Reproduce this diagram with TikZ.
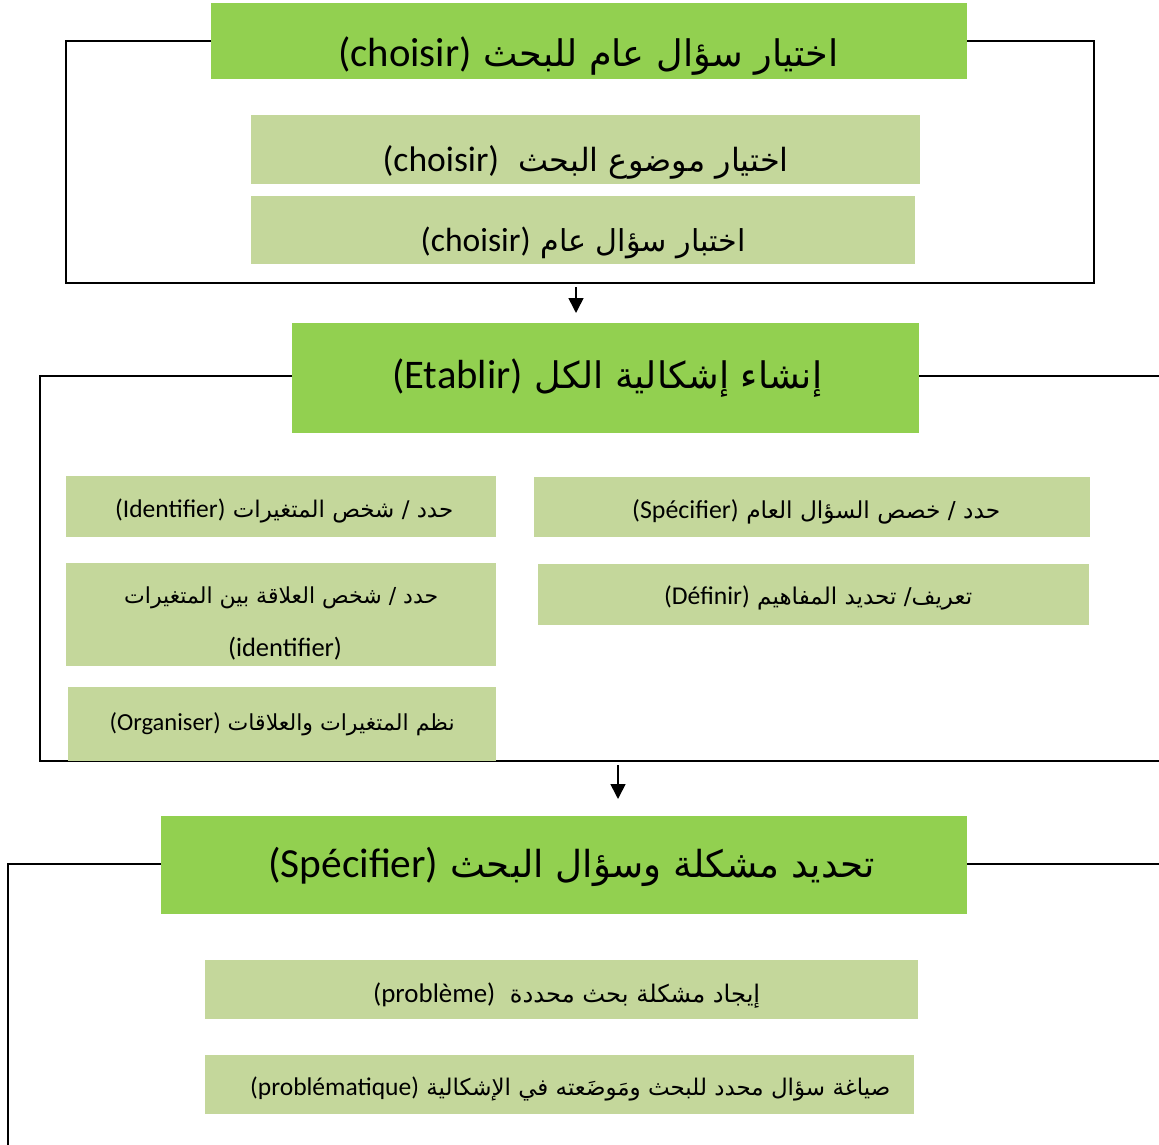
\documentclass[tikz,border=0pt]{standalone}
\usepackage{fontspec}
\setmainfont{Carlito}
\newfontfamily\latinfont{Carlito}
\newfontfamily\arabicfont[Script=Arabic,Scale=0.9]{DejaVu Sans}
\TeXXeTstate=1
\usetikzlibrary{arrows.meta}
\definecolor{titlegreen}{HTML}{92D050}
\definecolor{subgreen}{HTML}{C4D79B}
% #1 horizontal shift, #2 target width, #3 content
\newcommand{\fitto}[3]{\hspace*{#1}\resizebox{#2}{!}{#3}\hspace*{-#1}}
\tikzset{
  titlebox/.style={fill=titlegreen, draw=none, inner sep=0pt, anchor=north west, font=\fontsize{30}{36}\selectfont},
  subbox/.style={fill=subgreen, draw=none, inner sep=0pt, anchor=north west, font=\fontsize{20}{24}\selectfont},
  plaintext/.style={inner sep=0pt, font=\fontsize{20}{24}\selectfont},
  frameline/.style={draw=black, line width=1.3pt},
  flowarrow/.style={-{Triangle[length=15pt,width=15pt]}, line width=1.6pt}
}
\begin{document}
\begin{tikzpicture}[x=1pt,y=-1pt]
\useasboundingbox (0,0) rectangle (1159,1145);
% frames
\coordinate (f1a) at (66,41);
\coordinate (f1b) at (1094,283);
\draw[frameline] (f1a) rectangle (f1b);
\coordinate (f2a) at (1160,376);
\coordinate (f2b) at (40,376);
\coordinate (f2c) at (40,761);
\coordinate (f2d) at (1160,761);
\draw[frameline] (f2a) -- (f2b) -- (f2c) -- (f2d);
\coordinate (f3a) at (1160,864);
\coordinate (f3b) at (8,864);
\coordinate (f3c) at (8,1146);
\draw[frameline] (f3a) -- (f3b) -- (f3c);
% section 1
\node[titlebox, minimum width=756pt, minimum height=76pt, text height=55pt, text depth=5pt] (t1) at (211,3)
  {\fitto{-1pt}{500pt}{\arabicfont\beginR اختيار سؤال عام للبحث \beginL{\latinfont(choisir)}\endL\endR}};
\node[subbox, minimum width=669pt, minimum height=69pt, text height=52pt, text depth=8pt] (s1) at (251,115)
  {\fitto{0pt}{406pt}{\arabicfont\beginR اختيار موضوع البحث\hspace{0.6em}\beginL{\latinfont(choisir)}\endL\endR}};
\node[subbox, minimum width=664pt, minimum height=68pt, text height=51pt, text depth=9pt] (s2) at (251,196)
  {\fitto{0pt}{325pt}{\arabicfont\beginR اختبار سؤال عام \beginL{\latinfont(choisir)}\endL\endR}};
% arrow 1
\coordinate (a1s) at (576,287);
\coordinate (a1e) at (576,313);
\draw[flowarrow] (a1s) -- (a1e);
% section 2
\node[titlebox, minimum width=627pt, minimum height=110pt, text height=40pt, text depth=20pt] (t2) at (292,323)
  {\fitto{1.5pt}{430pt}{\arabicfont\beginR إنشاء إشكالية الكل \beginL{\latinfont(Etablir)}\endL\endR}};
\node[subbox, minimum width=430pt, minimum height=61pt, text height=41pt, text depth=19pt] (l1) at (66,476)
  {\fitto{3pt}{338pt}{\arabicfont\beginR حدد / شخص المتغيرات \beginL{\latinfont(Identifier)}\endL\endR}};
\node[subbox, minimum width=430pt, minimum height=103pt, text height=20pt, text depth=42pt] (l2) at (66,563)
  {\fitto{0pt}{314pt}{\arabicfont\beginR حدد / شخص العلاقة بين المتغيرات\endR}};
\node[plaintext, anchor=base] (l2b) at (285,656)
  {\resizebox{114pt}{!}{\latinfont(identifier)}};
\node[subbox, minimum width=428pt, minimum height=74pt, text height=36pt, text depth=24pt] (l3) at (68,687)
  {\fitto{0pt}{345pt}{\arabicfont\beginR نظم المتغيرات والعلاقات \beginL{\latinfont(Organiser)}\endL\endR}};
\node[subbox, minimum width=556pt, minimum height=60pt, text height=41pt, text depth=19pt] (r1) at (534,477)
  {\fitto{4pt}{368pt}{\arabicfont\beginR حدد / خصص السؤال العام \beginL{\latinfont(Spécifier)}\endL\endR}};
\node[subbox, minimum width=551pt, minimum height=61pt, text height=40pt, text depth=20pt] (r2) at (538,564)
  {\fitto{4.5pt}{308pt}{\arabicfont\beginR تعريف/ تحديد المفاهيم \beginL{\latinfont(Définir)}\endL\endR}};
% arrow 2
\coordinate (a2s) at (618,765);
\coordinate (a2e) at (618,799);
\draw[flowarrow] (a2s) -- (a2e);
% section 3
\node[titlebox, minimum width=806pt, minimum height=98pt, text height=42pt, text depth=18pt] (t3) at (161,816)
  {\fitto{7.5pt}{607pt}{\arabicfont\beginR تحديد مشكلة وسؤال البحث \beginL{\latinfont(Spécifier)}\endL\endR}};
\node[subbox, minimum width=713pt, minimum height=59pt, text height=42pt, text depth=16pt] (b1) at (205,960)
  {\fitto{5pt}{387pt}{\arabicfont\beginR إيجاد مشكلة بحث محددة\hspace{0.6em}\beginL{\latinfont(problème)}\endL\endR}};
\node[subbox, minimum width=709pt, minimum height=59pt, text height=40pt, text depth=18pt] (b2) at (205,1055)
  {\fitto{10.5pt}{640pt}{\arabicfont\beginR صياغة سؤال محدد للبحث ومَوضَعته في الإشكالية \beginL{\latinfont(problématique)}\endL\endR}};
\end{tikzpicture}
\end{document}
